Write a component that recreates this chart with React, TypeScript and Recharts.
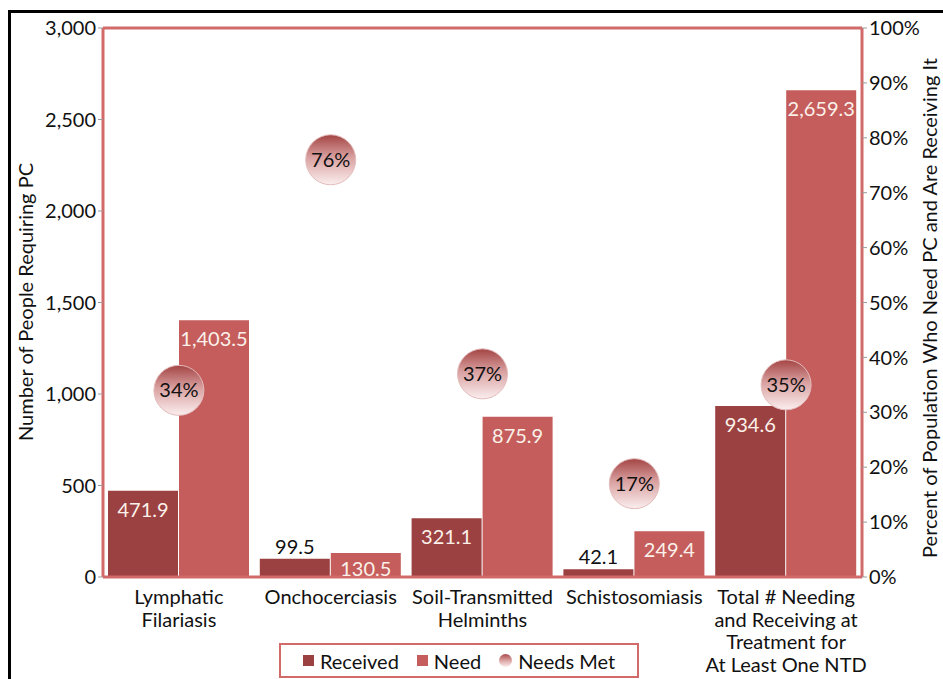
import React from "react"
import {
  Bar,
  ComposedChart,
  LabelList,
  Legend,
  ReferenceLine,
  Scatter,
  XAxis,
  YAxis,
} from "recharts"

const categories = [
  "Lymphatic\nFilariasis",
  "Onchocerciasis",
  "Soil-Transmitted\nHelminths",
  "Schistosomiasis",
  "Total # Needing\nand Receiving at\nTreatment for\nAt Least One NTD",
]
const received = [471.9, 99.5, 321.1, 42.1, 934.6]
const need = [1403.5, 130.5, 875.9, 249.4, 2659.3]
const needsMet = [34, 76, 37, 17, 35]

const leftTicks = [0, 500, 1000, 1500, 2000, 2500, 3000]
const rightTicks = [0, 10, 20, 30, 40, 50, 60, 70, 80, 90, 100]

const data = categories.map((name, i) => ({
  name,
  received: received[i],
  need: need[i],
  met: needsMet[i],
}))

const FONT = "Lato, 'Open Sans', sans-serif"
const FS = 20
const RED_BORDER = "#d26a6a"
const RECEIVED = "#9c4141"
const NEED = "#c45d5b"

const fmt = (v: number) =>
  v.toLocaleString("en-US", { minimumFractionDigits: 1, maximumFractionDigits: 1 })

function barLabel(props: any) {
  const { x, y, width, height, value } = props
  const cx = x + width / 2
  if (height < 22) {
    return (
      <text x={cx} y={y - 5} textAnchor="middle" fontSize={FS} fontFamily={FONT} fill="#111">
        {fmt(value)}
      </text>
    )
  }
  const cy = y + Math.min(19, height / 2 + 4)
  return (
    <text
      x={cx}
      y={cy}
      dy="0.35em"
      textAnchor="middle"
      fontSize={FS}
      fontFamily={FONT}
      fill="#fbf1ea"
    >
      {fmt(value)}
    </text>
  )
}

function Bubble(props: any) {
  const { cx, cy, payload } = props
  if (cx == null || cy == null) return null
  return (
    <g>
      <circle cx={cx} cy={cy} r={25} fill="url(#bubbleGrad)" stroke="#e4bcbc" strokeWidth={1} />
      <text
        x={cx}
        y={cy}
        dy="0.35em"
        textAnchor="middle"
        fontSize={FS}
        fontFamily={FONT}
        fill="#111"
      >
        {payload.met}%
      </text>
    </g>
  )
}

function CategoryTick(props: any) {
  const { x, y, payload } = props
  const lines = String(payload.value).split("\n")
  return (
    <text textAnchor="middle" fontSize={FS} fontFamily={FONT} fill="#111">
      {lines.map((l, i) => (
        <tspan key={i} x={x} y={y + 25 + i * 22.5}>
          {l}
        </tspan>
      ))}
    </text>
  )
}

function LegendBox() {
  return (
    <div
      style={{
        boxSizing: "border-box",
        width: 360,
        height: 35,
        border: `2px solid ${RED_BORDER}`,
        display: "flex",
        alignItems: "center",
        justifyContent: "center",
        gap: 18,
        fontFamily: FONT,
        fontSize: FS,
        color: "#111",
        background: "#fff",
      }}
    >
      <span style={{ display: "flex", alignItems: "center", gap: 6 }}>
        <span style={{ width: 11, height: 11, background: RECEIVED, display: "inline-block" }} />
        Received
      </span>
      <span style={{ display: "flex", alignItems: "center", gap: 6 }}>
        <span style={{ width: 11, height: 11, background: NEED, display: "inline-block" }} />
        Need
      </span>
      <span style={{ display: "flex", alignItems: "center", gap: 6 }}>
        <span
          style={{
            width: 13,
            height: 13,
            borderRadius: "50%",
            background: "linear-gradient(#a94a4a, #dca3a3 50%, #fbeeee)",
            display: "inline-block",
          }}
        />
        Needs Met
      </span>
    </div>
  )
}

export default function App() {
  return (
    <div
      style={{
        position: "absolute",
        left: 0,
        top: 0,
        width: 943,
        height: 679,
        background: "#fff",
        overflow: "hidden",
      }}
    >
      <div
        style={{
          position: "absolute",
          left: 8,
          top: 10,
          right: 0,
          bottom: 0,
          borderLeft: "3px solid #000",
          borderTop: "3px solid #000",
        }}
      />
      <ComposedChart
        width={943}
        height={679}
        data={data}
        margin={{ top: 28, right: 11, left: 33, bottom: 0 }}
        barCategoryGap={5}
        barGap={1}
        style={{ position: "absolute", left: 0, top: 0 }}
      >
        <defs>
          <linearGradient id="bubbleGrad" x1="0" y1="0" x2="0" y2="1">
            <stop offset="0%" stopColor="#a44444" />
            <stop offset="45%" stopColor="#d9a0a0" />
            <stop offset="100%" stopColor="#fbeeee" />
          </linearGradient>
        </defs>
        <XAxis
          dataKey="name"
          height={67}
          interval={0}
          tickLine={false}
          tickSize={0}
          axisLine={{ stroke: RED_BORDER, strokeWidth: 3 }}
          tick={<CategoryTick />}
        />
        <YAxis
          yAxisId="left"
          width={70}
          domain={[0, 3000]}
          ticks={leftTicks}
          tickFormatter={(v: number) => v.toLocaleString("en-US")}
          axisLine={{ stroke: RED_BORDER, strokeWidth: 3 }}
          tickLine={{ stroke: "#999" }}
          tickSize={5}
          tick={{ fill: "#111", fontSize: FS, fontFamily: FONT }}
          label={() => (
            <text
              x={26}
              y={302}
              transform="rotate(-90 26 302)"
              textAnchor="middle"
              dy="0.35em"
              fontSize={FS}
              fontFamily={FONT}
              fill="#111"
            >
              Number of People Requiring PC
            </text>
          )}
        />
        <YAxis
          yAxisId="right"
          orientation="right"
          width={70}
          domain={[0, 100]}
          ticks={rightTicks}
          tickFormatter={(v: number) => `${v}%`}
          axisLine={{ stroke: RED_BORDER, strokeWidth: 3 }}
          tickLine={{ stroke: "#999" }}
          tickSize={5}
          tick={{ fill: "#111", fontSize: FS, fontFamily: FONT }}
          label={() => (
            <text
              x={930}
              y={308}
              transform="rotate(-90 930 308)"
              textAnchor="middle"
              dy="0.35em"
              fontSize={FS}
              fontFamily={FONT}
              fill="#111"
            >
              Percent of Population Who Need PC and Are Receiving It
            </text>
          )}
        />
        <ReferenceLine yAxisId="left" y={3000} stroke={RED_BORDER} strokeWidth={3} />
        <Bar yAxisId="left" dataKey="received" name="Received" fill={RECEIVED} isAnimationActive={false}>
          <LabelList dataKey="received" content={barLabel} />
        </Bar>
        <Bar yAxisId="left" dataKey="need" name="Need" fill={NEED} isAnimationActive={false}>
          <LabelList dataKey="need" content={barLabel} />
        </Bar>
        <Scatter
          yAxisId="right"
          dataKey="met"
          name="Needs Met"
          shape={<Bubble />}
          isAnimationActive={false}
        />
        <Legend
          layout="vertical"
          align="center"
          verticalAlign="bottom"
          content={() => <LegendBox />}
          wrapperStyle={{ left: 279, top: 643, bottom: "auto", width: 360, height: 35 }}
        />
      </ComposedChart>
    </div>
  )
}
